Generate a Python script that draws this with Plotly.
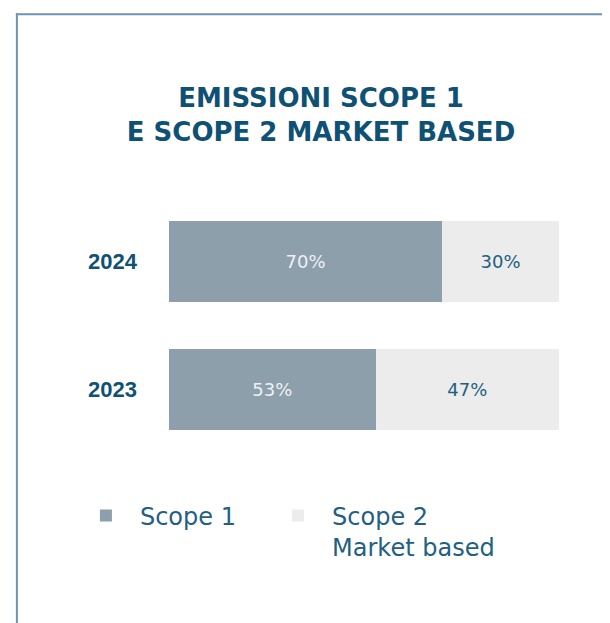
import plotly.graph_objects as go

# ---- data ----
years = ["2024", "2023"]
series_names = ["Scope 1", "Scope 2<br>Market based"]
scope1 = [70, 53]
scope2 = [30, 47]
title_lines = ["EMISSIONI SCOPE 1", "E SCOPE 2 MARKET BASED"]

# ---- style ----
OFF = 8  # default page body margin
W, H = 610 - OFF, 623 - OFF
L, R, T, B = 169 - OFF, 51.3, 197.5 - OFF, 169.5
DARK = "#0f5174"
TEXT_BLUE = "#235f82"
C1 = "#8c9faa"
C2 = "#ececec"
BORDER = "#6f92ae"

fig = go.Figure()
fig.add_trace(go.Bar(
    y=years, x=scope1, name=series_names[0], orientation="h",
    marker=dict(color=C1, line=dict(width=0)),
    text=[f"{v}%" for v in scope1], textposition="inside",
    insidetextanchor="middle",
    textfont=dict(family="DejaVu Sans", size=18, color="#eef1f4"),
    hoverinfo="skip", legend="legend",
))
fig.add_trace(go.Bar(
    y=years, x=scope2, name=series_names[1], orientation="h",
    marker=dict(color=C2, line=dict(width=0)),
    text=[f"{v}%" for v in scope2], textposition="inside",
    insidetextanchor="middle",
    textfont=dict(family="DejaVu Sans", size=18, color=TEXT_BLUE),
    hoverinfo="skip", legend="legend2",
))

pw = W - L - R
ph = H - T - B

# convert reference-page pixel positions to paper coordinates
def px_x(p):
    return (p - OFF - L) / pw

def px_y(p):
    return (H - B - (p - OFF)) / ph

shapes = [
    dict(type="line", xref="paper", yref="paper",
         x0=px_x(17), x1=px_x(17), y0=px_y(12), y1=px_y(H + 20),
         line=dict(color=BORDER, width=2)),
    dict(type="line", xref="paper", yref="paper",
         x0=px_x(16), x1=px_x(W + 20), y0=px_y(13), y1=px_y(13),
         line=dict(color=BORDER, width=2)),
]

legend_style = dict(
    orientation="h", xanchor="left", xref="paper", yanchor="top",
    font=dict(family="DejaVu Sans", size=24, color=TEXT_BLUE),
    itemwidth=58, valign="top", bgcolor="rgba(0,0,0,0)",
)

fig.update_layout(
    width=W, height=H,
    margin=dict(l=L, r=R, t=T, b=B, pad=0),
    paper_bgcolor="white", plot_bgcolor="white",
    barmode="stack", bargap=0.367,
    uniformtext=dict(mode="show", minsize=10),
    title=dict(
        text="<br>".join(title_lines),
        x=(321 - OFF) / W, xanchor="center", xref="container",
        y=1 - (107 - OFF) / H, yanchor="middle", yref="container",
        font=dict(family="DejaVu Sans", size=26, color=DARK, weight="bold"),
    ),
    xaxis=dict(range=[0, 100], visible=False, fixedrange=True),
    yaxis=dict(
        type="category", categoryorder="array", categoryarray=["2023", "2024"],
        showgrid=False, zeroline=False, showline=False, ticks="",
        ticklabelstandoff=31,
        tickfont=dict(family="Liberation Sans", size=22, color=DARK, weight="bold"),
        fixedrange=True,
    ),
    showlegend=True,
    legend=dict(legend_style, x=px_x(72), y=px_y(494)),
    legend2=dict(legend_style, x=px_x(264), y=px_y(494)),
    shapes=shapes,
)

fig.write_html("out.html")
